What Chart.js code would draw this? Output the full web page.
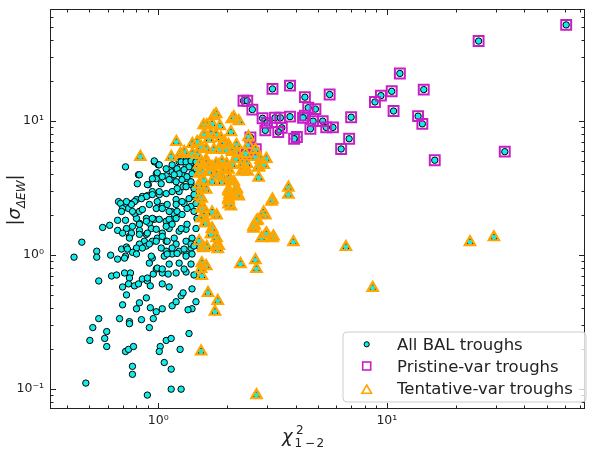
<!DOCTYPE html>
<html>
<head>
<meta charset="utf-8">
<script src="https://cdn.jsdelivr.net/npm/chart.js@4.4.0/dist/chart.umd.min.js"></script>
<style>
html,body{margin:0;padding:0;background:#fff;}
</style>
</head>
<body>
<canvas id="c" width="594" height="449"></canvas>
<script>
// axis limits and tick labels
const xMin = 0.336, xMax = 73.6;
const yMin = 0.0711, yMax = 68.7;
const xMajor = [1, 10];
const xTickLabels = ['10⁰', '10¹'];
const yMajor = [0.1, 1, 10];
const yTickLabels = ['10⁻¹', '10⁰', '10¹'];

// troughs that are neither pristine nor tentative (only in "All BAL troughs")
const otherTroughs = [
[0.482,0.111],[0.549,0.642],[0.625,0.699],[0.657,0.711],[0.712,0.736],[0.756,0.736],[0.748,0.675],[0.741,0.610],[0.787,0.590],[0.819,0.610],
[0.852,0.664],[0.896,0.642],[0.896,0.675],[0.951,0.723],[1.041,0.736],[1.105,0.723],[1.197,0.736],[1.323,0.748],[1.433,0.711],[0.698,0.579],
[0.923,0.590],[1.041,0.610],[1.116,0.579],[0.726,0.505],[0.698,0.426],[0.827,0.441],[0.803,0.398],[0.887,0.480],[0.923,0.405],[0.980,0.378],
[1.041,0.398],[1.150,0.419],[1.197,0.449],[1.259,0.497],[1.284,0.523],[1.405,0.560],[1.462,0.449],[1.405,0.398],[1.350,0.391],[0.549,0.336],
[0.517,0.288],[0.677,0.336],[0.748,0.319],[0.748,0.308],[0.844,0.330],[0.951,0.336],[0.914,0.288],[0.595,0.269],[0.583,0.239],[0.502,0.231],
[0.595,0.208],[0.719,0.191],[0.741,0.198],[0.779,0.208],[0.771,0.148],[0.771,0.129],[1.020,0.208],[1.010,0.191],[1.062,0.158],[1.083,0.231],
[1.139,0.239],[1.139,0.141],[1.246,0.198],[1.363,0.260],[1.139,0.100],[1.259,0.100],[0.896,0.0903],
[0.463,1.25],[0.428,0.966],[0.538,1.07],[0.538,0.966],[0.571,1.61],[0.613,1.67],[0.664,1.53],[0.664,1.82],[0.719,1.82],[0.619,1.00],
[0.664,0.934],[0.691,1.11],[0.726,1.15],[0.719,0.983],[0.748,1.38],[0.763,1.46],[0.827,1.53],[0.827,1.73],[0.803,1.88],[0.787,2.05],
[0.827,2.12],[0.887,1.88],[0.914,1.73],[0.961,1.85],[0.932,1.58],[0.887,1.43],[0.869,1.27],[0.827,1.21],[0.803,1.13],[0.771,1.05],
[0.670,2.51],[0.684,2.43],[0.719,2.31],[0.741,2.23],[0.763,2.43],[0.803,2.60],[0.852,2.74],[0.896,2.78],[0.719,4.56],[0.819,3.98],
[0.810,3.41],[0.905,3.36],[0.961,4.97],[1.0,4.72],[0.980,4.05],[0.980,3.72],[1.030,3.41],[1.083,3.91],[1.139,3.66],[1.150,4.19],
[1.197,4.41],[1.234,4.97],[1.323,4.72],[1.391,4.89],[1.433,4.41],[1.271,3.98],[1.336,3.72],[1.391,3.36],[1.433,3.14],[1.284,3.24],
[1.234,2.98],[1.197,2.60],[1.083,2.88],[1.010,2.83],[0.942,2.98],[0.990,2.51],[0.914,2.39],[0.980,2.23],[1.041,2.31],[1.094,2.39],
[1.139,2.12],[1.174,2.01],[1.209,2.12],[1.297,2.43],[1.391,2.31],[1.433,2.74],[1.462,2.43],[1.083,1.79],[1.150,1.85],[1.116,1.58],
[1.041,1.46],[0.990,1.34],[0.942,1.27],[0.887,1.17],[1.083,1.27],[1.174,1.34],[1.234,1.51],[1.323,1.56],[1.405,1.34],[1.391,1.13],
[1.323,1.02],[1.234,1.07],[1.150,1.02],[1.197,1.21],[1.083,1.07],[1.030,1.13],[1.062,0.983],[1.116,0.858],[0.942,0.950],[0.914,0.872],
[0.980,0.788],[0.990,0.801],[1.041,0.788],[1.234,0.872],[1.297,0.788],[1.391,0.858],[1.405,1.02],[1.507,1.17],[1.323,1.27],[1.405,5.14],
[1.323,5.41],[1.462,5.23],
[0.961,5.05],[1.010,4.72],[0.827,3.98],[0.896,3.36],[0.942,3.72],[0.990,4.12],[1.041,3.85],[1.083,4.41],[1.150,4.72],[1.209,4.41],
[1.259,4.97],[1.323,4.97],[1.391,5.05],[1.462,4.97],[1.363,4.56],[1.297,4.34],[1.234,4.05],[1.174,3.98],[1.116,3.66],[1.197,3.53],
[1.271,3.66],[1.336,3.85],[1.405,4.05],[1.462,4.41],[1.391,3.53],[1.323,3.24],[1.209,3.14],[1.150,2.98],[1.010,2.98],[0.942,2.83],
[0.887,2.74],[0.844,2.64],[0.787,2.51],[0.763,2.39],[0.726,2.51],[0.698,2.23],[0.691,2.12],[0.771,2.12],[0.852,2.19],[1.041,2.23],
[1.116,2.12],[1.197,2.39],[1.271,2.51],[1.363,2.64],[1.433,2.83],[1.336,2.23],[1.271,2.01],[1.197,1.88],[1.116,1.85],[1.010,1.85],
[0.942,1.88],[0.887,1.79],[0.827,1.70],[0.771,1.64],[0.726,1.58],[0.698,1.46],[0.748,1.34],[0.827,1.43],[0.896,1.46],[0.980,1.56],
[1.083,1.64],[1.150,1.70],[1.259,1.58],[1.336,1.70],[1.462,1.58],[1.477,1.88],[1.433,2.12],[1.391,1.21],[1.297,1.11],[1.209,1.03],
[1.150,1.13],[1.094,1.27],[1.041,1.38],[0.980,1.27],[0.914,1.21],[0.852,1.13],[0.733,1.11],[0.712,0.950],[0.803,1.02],[0.932,0.983],
[1.094,1.02],[1.323,0.983],[1.433,1.17]
];

// pristine-var troughs
const pristine = [
[60.9,52.3],[25.2,39.6],[11.4,22.7],[3.77,18.4],[3.16,17.4],[4.38,15.1],[5.62,15.8],[10.5,16.7],[9.42,15.5],[8.87,13.9],
[14.5,17.2],[10.7,11.9],[4.53,12.6],[4.87,12.3],[3.77,10.8],[4.38,11.0],[4.30,10.6],[4.76,10.0],[5.24,10.0],[6.98,10.7],
[13.7,10.9],[14.3,9.55],[4.63,8.77],[5.43,8.98],[5.81,8.98],[4.04,7.61],[3.93,7.39],[6.84,7.39],[6.31,6.2],[16.2,5.11],
[32.8,5.92],[2.36,14.2],[2.45,14.2],[2.58,12.2],[2.86,10.5],[2.99,9.71],[2.94,8.53],[3.24,10.6],[3.42,10.6],[3.47,8.92],
[3.35,8.29],[2.53,7.57],[2.67,6.17],[2.44,5.79],[2.37,5.79]
];

// tentative-var troughs
const tentative = [
[3.71,3.19],[3.71,2.83],[3.90,1.25],[6.62,1.15],[23.1,1.25],[29.4,1.36],[8.67,0.570],[3.13,2.51],[2.89,2.08],[2.94,1.98],
[2.72,1.82],[2.64,1.67],[2.61,1.58],[2.97,1.46],[2.83,1.34],[3.16,1.34],[2.29,0.858],[2.66,0.918],[2.69,0.788],[2.05,2.83],
[2.23,2.83],[2.03,2.56],[2.08,2.31],[1.52,2.74],[1.58,2.23],[1.72,2.08],[1.80,1.98],[1.54,1.88],[1.60,1.73],[1.72,1.56],
[1.70,1.43],[1.51,1.27],[1.57,1.15],[1.63,1.15],[1.80,1.19],[1.82,1.11],[1.55,0.872],[1.62,0.829],[1.54,0.788],[1.55,0.699],
[1.65,0.523],[1.82,0.456],[1.77,0.378],[1.54,0.191],[2.69,0.0903],
[1.79,11.27],[1.75,10.9],[2.10,10.35],[2.25,10.0],[1.63,9.34],[1.86,9.18],[1.72,9.50],[1.60,8.01],[1.70,8.01],[2.08,8.29],
[1.79,7.88],[1.88,7.48],[1.41,6.75],[1.48,6.99],[1.90,6.75],[2.03,6.64],[2.20,6.64],[2.48,7.61],[1.54,6.42],[1.62,6.20],
[1.75,6.10],[1.84,6.10],[1.99,6.10],[2.10,5.89],[2.23,5.70],[2.48,6.64],[2.66,6.10],[1.41,5.70],[1.48,5.60],[1.30,5.89],
[1.25,5.70],[1.54,4.97],[1.62,5.14],[1.79,4.80],[1.90,4.97],[1.99,4.80],[2.18,5.23],[2.34,4.80],[2.44,4.80],[2.80,5.14],
[2.97,5.23],[1.70,4.19],[1.93,4.34],[2.03,4.34],[2.36,4.41],[2.46,4.19],[2.75,4.49],[1.55,4.19],[1.58,3.59],[1.72,3.53],
[1.90,3.53],[2.08,3.59],[2.75,3.78],[2.03,2.98],[2.20,3.08],[2.25,2.74],[3.16,2.60],[1.55,3.14],[2.14,10.71],[1.58,9.34],
[1.20,6.99],[0.835,5.41],[1.14,5.41],[1.58,7.88],[1.67,7.36],[1.95,6.99],[2.20,5.89],[2.41,5.70],[2.66,5.41],[2.75,4.56],
[2.89,4.72],[1.51,4.72],[1.62,4.80],[1.72,4.56],[1.84,4.72],[1.97,4.41],[2.10,4.72],[2.41,4.34],[2.32,4.19],[1.51,4.05],
[1.67,4.19],[1.79,3.98],[1.90,3.85],[2.03,3.72],[2.14,3.53],[2.61,1.64],[2.69,1.79],[2.97,1.43],[3.19,1.38],[1.51,3.36],
[1.62,3.08],[1.55,2.64],[1.54,2.23],[1.58,1.95],[1.62,1.73],[1.72,1.58],[1.80,1.34],[1.84,1.17],[1.58,1.13],[2.03,3.08],
[2.20,3.14],[2.03,2.64],[2.03,2.39],[2.20,2.83]
];

const seriesNames = ['All BAL troughs', 'Pristine-var troughs', 'Tentative-var troughs'];

function toPoints(arr) {
	return arr.map(p => ({x: p[0], y: p[1]}));
}

const CYAN = '#10ecec';
const MAGENTA = '#c81ec8';
const ORANGE = '#ffa500';
const FONT = "'DejaVu Sans', sans-serif";

// inward ticks on all four sides plus the frame
const frameTicks = {
	id: 'frameTicks',
	afterDatasetsDraw(chart) {
		const ctx = chart.ctx, a = chart.chartArea;
		const xs = chart.scales.x, ys = chart.scales.y;
		ctx.save();
		ctx.strokeStyle = '#222';
		ctx.lineWidth = 1;
		ctx.beginPath();
		for (let e = -2; e <= 2; e++) {
			for (let k = 1; k <= 9; k++) {
				const v = k * Math.pow(10, e);
				const len = k === 1 ? 6 : 3.5;
				if (v >= xs.min && v <= xs.max) {
					const px = Math.round(xs.getPixelForValue(v)) + 0.5;
					ctx.moveTo(px, a.bottom); ctx.lineTo(px, a.bottom - len);
					ctx.moveTo(px, a.top); ctx.lineTo(px, a.top + len);
				}
				if (v >= ys.min && v <= ys.max) {
					const py = Math.round(ys.getPixelForValue(v)) + 0.5;
					ctx.moveTo(a.left, py); ctx.lineTo(a.left + len, py);
					ctx.moveTo(a.right, py); ctx.lineTo(a.right - len, py);
				}
			}
		}
		ctx.stroke();
		ctx.strokeRect(a.left + 0.5, a.top + 0.5, a.right - a.left - 1, a.bottom - a.top - 1);
		ctx.restore();
	}
};

// axis titles with sub/superscripts
const axisTitles = {
	id: 'axisTitles',
	afterDraw(chart) {
		const ctx = chart.ctx;
		ctx.save();
		ctx.fillStyle = '#222';
		ctx.textBaseline = 'alphabetic';
		// x title: chi^2_{1-2}
		ctx.font = 'italic 18px ' + FONT;
		ctx.fillText('χ', 282, 442);
		ctx.font = '12px ' + FONT;
		ctx.fillText('2', 296, 434);
		ctx.fillText('1', 294.5, 446.5);
		ctx.fillText('−', 305, 446.5);
		ctx.fillText('2', 316.5, 446.5);
		// y title: |sigma_{Delta EW}|
		const big = '18px ' + FONT, bigIt = 'italic 18px ' + FONT, small = 'italic 12px ' + FONT;
		const parts = [['|', big, 0], ['σ', bigIt, 0], ['ΔEW', small, 4.5], ['|', big, 0]];
		let total = 0;
		parts.forEach(p => { ctx.font = p[1]; total += ctx.measureText(p[0]).width; });
		ctx.translate(20, 200);
		ctx.rotate(-Math.PI / 2);
		let u = -total / 2;
		parts.forEach(p => {
			ctx.font = p[1];
			ctx.fillText(p[0], u, p[2]);
			u += ctx.measureText(p[0]).width;
		});
		ctx.restore();
	}
};

// legend drawn inside the plot, lower right
const innerLegend = {
	id: 'innerLegend',
	afterDraw(chart) {
		const ctx = chart.ctx;
		const bx = 343, by = 332, bw = 243, bh = 70, r = 4;
		ctx.save();
		ctx.beginPath();
		ctx.moveTo(bx + r, by);
		ctx.arcTo(bx + bw, by, bx + bw, by + bh, r);
		ctx.arcTo(bx + bw, by + bh, bx, by + bh, r);
		ctx.arcTo(bx, by + bh, bx, by, r);
		ctx.arcTo(bx, by, bx + bw, by, r);
		ctx.closePath();
		ctx.fillStyle = 'rgba(255,255,255,0.8)';
		ctx.fill();
		ctx.strokeStyle = '#cccccc';
		ctx.lineWidth = 1;
		ctx.stroke();

		const mx = 366.7;
		// circle
		ctx.beginPath();
		ctx.arc(mx, 344.3, 2.6, 0, Math.PI * 2);
		ctx.fillStyle = CYAN;
		ctx.fill();
		ctx.strokeStyle = '#000';
		ctx.lineWidth = 1;
		ctx.stroke();
		// square
		ctx.strokeStyle = MAGENTA;
		ctx.lineWidth = 1.6;
		ctx.strokeRect(mx - 4, 362, 8, 8);
		// triangle
		ctx.strokeStyle = ORANGE;
		ctx.beginPath();
		ctx.moveTo(mx, 385);
		ctx.lineTo(mx + 4.8, 393.3);
		ctx.lineTo(mx - 4.8, 393.3);
		ctx.closePath();
		ctx.stroke();

		ctx.fillStyle = '#222';
		ctx.font = '16.5px ' + FONT;
		ctx.textBaseline = 'alphabetic';
		ctx.fillText(seriesNames[0], 397, 350);
		ctx.fillText(seriesNames[1], 397, 371.7);
		ctx.fillText(seriesNames[2], 397, 393.5);
		ctx.restore();
	}
};

function tickLabel(majors, labels) {
	return function(value) {
		const i = majors.indexOf(value);
		return i >= 0 ? labels[i] : '';
	};
}

const allPoints = [].concat(otherTroughs, pristine, tentative);

new Chart(document.getElementById('c'), {
	type: 'scatter',
	data: {
		datasets: [{
			label: seriesNames[0],
			data: toPoints(allPoints),
			pointStyle: 'circle',
			pointRadius: 3.2,
			backgroundColor: CYAN,
			borderColor: '#000',
			borderWidth: 1,
			order: 3
		}, {
			label: seriesNames[1],
			data: toPoints(pristine),
			pointStyle: 'rect',
			pointRadius: 7,
			backgroundColor: 'rgba(0,0,0,0)',
			borderColor: MAGENTA,
			borderWidth: 2,
			order: 2
		}, {
			label: seriesNames[2],
			data: toPoints(tentative),
			pointStyle: 'triangle',
			pointRadius: 6,
			backgroundColor: 'rgba(0,0,0,0)',
			borderColor: ORANGE,
			borderWidth: 2.2,
			order: 1
		}]
	},
	options: {
		responsive: false,
		animation: false,
		devicePixelRatio: 1,
		layout: {padding: {top: 6, right: 5, left: 0, bottom: 0}},
		plugins: {legend: {display: false}, tooltip: {enabled: false}},
		scales: {
			x: {
				type: 'logarithmic',
				bounds: 'data',
				min: xMin,
				max: xMax,
				grid: {display: false, drawTicks: false},
				border: {display: false},
				ticks: {
					font: {family: FONT, size: 12.5},
					color: '#222',
					padding: 4,
					autoSkip: false,
					maxRotation: 0,
					callback: tickLabel(xMajor, xTickLabels)
				},
				afterBuildTicks: s => {
					s.min = xMin; s.max = xMax;
					s.ticks = xMajor.map(v => ({value: v}));
				},
				afterFit: s => {
					s.height = 40;
					s.paddingLeft = 0; s.paddingRight = 0;
					s.paddingTop = 0; s.paddingBottom = 0;
				}
			},
			y: {
				type: 'logarithmic',
				bounds: 'data',
				min: yMin,
				max: yMax,
				grid: {display: false, drawTicks: false},
				border: {display: false},
				ticks: {
					font: {family: FONT, size: 12.5},
					color: '#222',
					padding: 6,
					autoSkip: false,
					callback: tickLabel(yMajor, yTickLabels)
				},
				afterBuildTicks: s => {
					s.min = yMin; s.max = yMax;
					s.ticks = yMajor.map(v => ({value: v}));
				},
				afterFit: s => {
					s.width = 50;
					s.paddingLeft = 0; s.paddingRight = 0;
					s.paddingTop = 0; s.paddingBottom = 0;
				}
			}
		}
	},
	plugins: [frameTicks, axisTitles, innerLegend]
});
</script>
</body>
</html>
